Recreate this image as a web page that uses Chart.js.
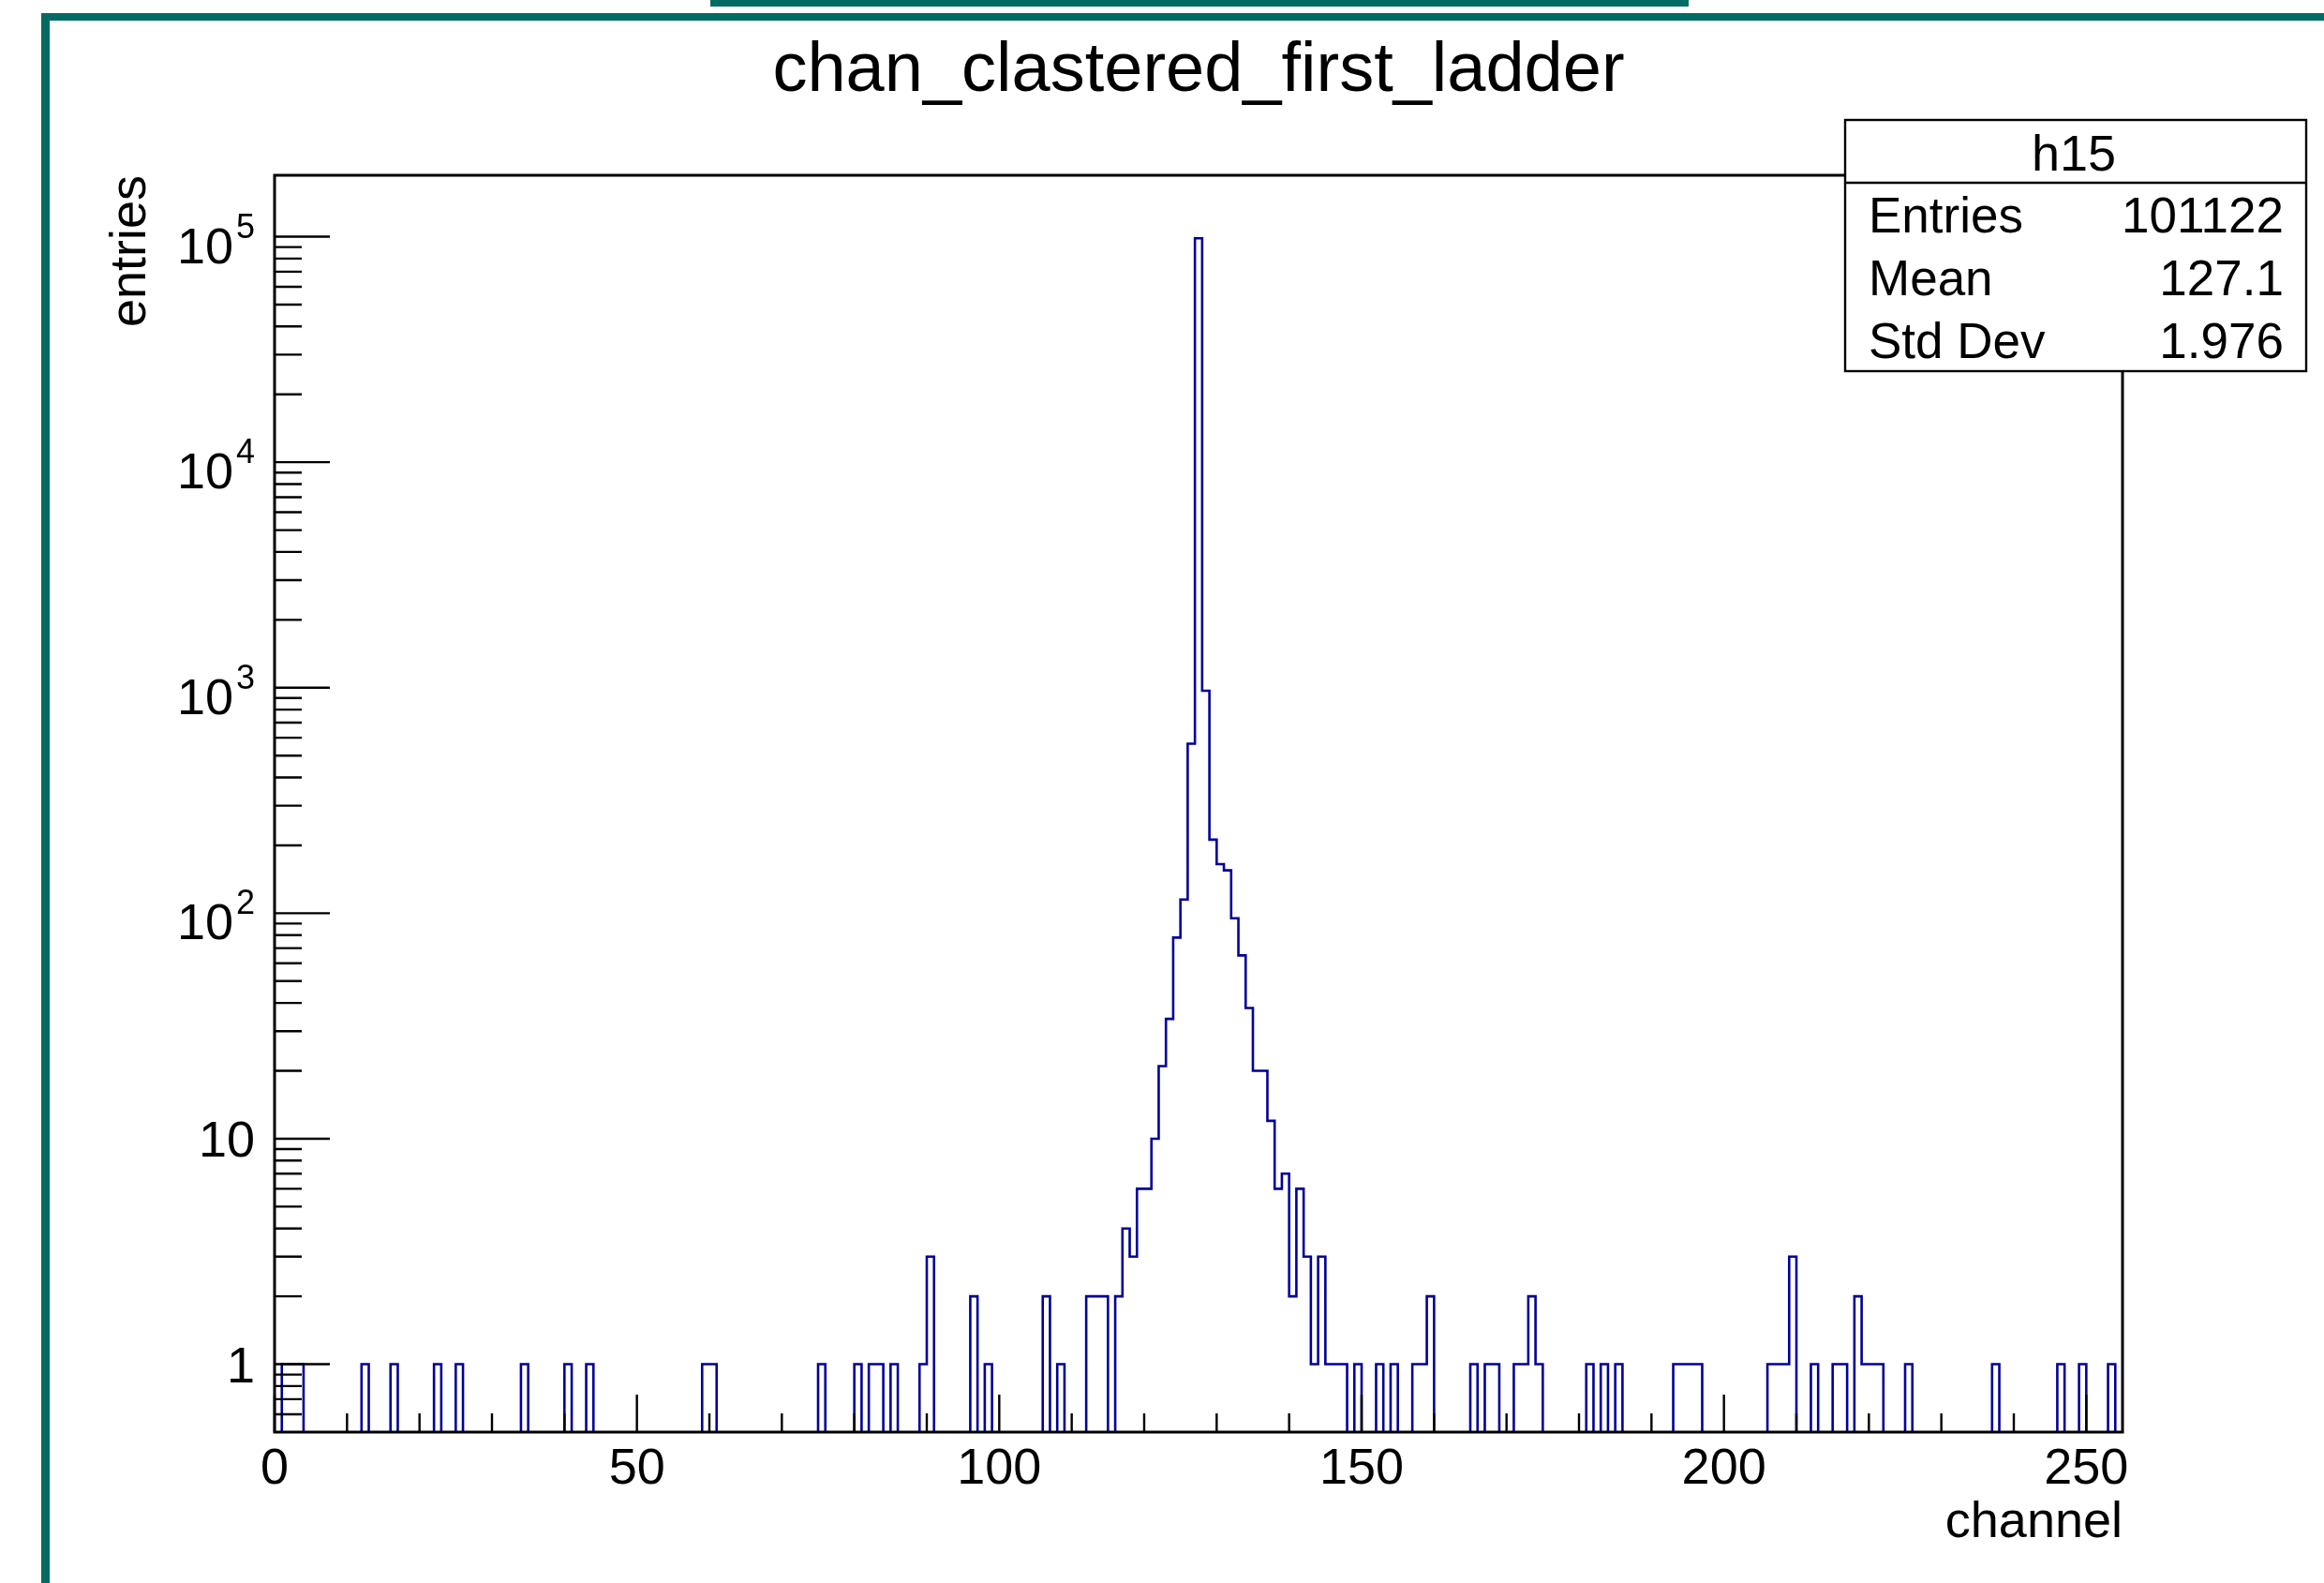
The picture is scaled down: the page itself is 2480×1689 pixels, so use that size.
<!DOCTYPE html>
<html>
<head>
<meta charset="utf-8">
<title>chan_clastered_first_ladder</title>
<script src="https://cdn.jsdelivr.net/npm/chart.js@4.4.1/dist/chart.umd.min.js"></script>
<style>
  html, body { margin: 0; padding: 0; background: #fff; }
  canvas { display: block; }
</style>
</head>
<body>
<canvas id="h15" width="2480" height="1689"></canvas>
<script>
// non-empty bins of h15 (channel = lower bin edge)
const channels = [
  1, 2, 3, 12, 16, 22, 25, 34, 40, 43,
  59, 60, 75, 80, 82, 83, 85, 89, 90, 96, 98, 106, 108,
  112, 113, 114, 116, 117, 118, 119, 120, 121, 122, 123, 124, 125, 126, 127,
  128, 129, 130, 131, 132, 133, 134, 135, 136, 137, 138, 139, 140, 141, 142, 143, 144,
  145, 146, 147, 149, 152, 154, 157, 158, 159, 165, 167, 168, 171, 172, 173, 174, 181, 183, 185,
  193, 194, 195, 196, 206, 207, 208, 209, 212, 215, 216, 218, 219, 220, 221, 225, 237, 246, 249, 253
];
const entries = [
  1, 1, 1, 1, 1, 1, 1, 1, 1, 1,
  1, 1, 1, 1, 1, 1, 1, 1, 3, 2, 1, 2, 1,
  2, 2, 2, 2, 4, 3, 6, 6, 10, 21, 34, 78, 115, 565, 98420,
  970, 212, 165, 155, 95, 65, 38, 20, 20, 12, 6, 7, 2, 6, 3, 1, 3,
  1, 1, 1, 1, 1, 1, 1, 1, 2, 1, 1, 1, 1, 1, 2, 1, 1, 1, 1,
  1, 1, 1, 1, 1, 1, 1, 3, 1, 1, 1, 2, 1, 1, 1, 1, 1, 1, 1, 1
];

const nBins = 255;
const xLabels = [0, 50, 100, 150, 200, 250];
const yDecades = [0, 1, 2, 3, 4, 5];
const statsRows = [["Entries", "101122"], ["Mean", "127.1"], ["Std Dev", "1.976"]];

const FONT = '"Liberation Sans", Arial, Helvetica, sans-serif';
const TEAL = '#036b63';

const counts = new Array(nBins).fill(0);
channels.forEach((c, i) => { counts[c] = entries[i]; });

// empty bins go below the axis minimum and get clipped, the way ROOT draws them
const FLOOR = 0.1;
const points = counts.map((v, i) => ({ x: i, y: v > 0 ? v : FLOOR }));
points.push({ x: nBins, y: points[nBins - 1].y });

const rootPad = {
  id: 'rootPad',
  afterDraw(chart) {
    const { ctx, chartArea: a } = chart;
    const sx = chart.scales.x, sy = chart.scales.y;
    ctx.save();

    // canvas frame
    ctx.fillStyle = TEAL;
    ctx.fillRect(758, 0, 1044, 7);
    ctx.fillRect(44, 14, 2436, 8);
    ctx.fillRect(44, 14, 9, 1675);

    // plot frame
    ctx.strokeStyle = '#000';
    ctx.lineWidth = 3;
    ctx.strokeRect(a.left, a.top, a.right - a.left, a.bottom - a.top);

    // x ticks, pointing inward
    ctx.lineWidth = 2.4;
    ctx.beginPath();
    for (let v = 0; v <= nBins; v += 10) {
      const px = sx.getPixelForValue(v);
      const len = v % 50 === 0 ? 40 : 20;
      ctx.moveTo(px, a.bottom);
      ctx.lineTo(px, a.bottom - len);
    }
    // y ticks: decades long, 2..9 short
    for (let e = -1; e <= 5; e++) {
      for (let m = 1; m <= 9; m++) {
        const v = m * Math.pow(10, e);
        if (v <= sy.min || v >= sy.max) continue;
        const py = sy.getPixelForValue(v);
        const len = m === 1 ? 59 : 29;
        ctx.moveTo(a.left, py);
        ctx.lineTo(a.left + len, py);
      }
    }
    ctx.stroke();

    ctx.fillStyle = '#000';

    // x labels
    ctx.font = '54px ' + FONT;
    ctx.textAlign = 'center';
    ctx.textBaseline = 'alphabetic';
    xLabels.forEach(v => ctx.fillText(String(v), sx.getPixelForValue(v), 1583));

    // y labels
    const yRight = 272;
    ctx.textAlign = 'right';
    yDecades.forEach(e => {
      const py = sy.getPixelForValue(Math.pow(10, e));
      if (e < 2) {
        ctx.font = '54px ' + FONT;
        ctx.fillText(e === 0 ? '1' : '10', yRight, py + 19);
      } else {
        ctx.font = '36px ' + FONT;
        const sup = String(e);
        const w = ctx.measureText(sup).width;
        ctx.fillText(sup, yRight, py + 1);
        ctx.font = '54px ' + FONT;
        ctx.fillText('10', yRight - w - 3, py + 28);
      }
    });

    // axis titles
    ctx.font = '54px ' + FONT;
    ctx.textAlign = 'right';
    ctx.fillText('channel', a.right, 1640);
    ctx.save();
    ctx.translate(155, a.top);
    ctx.rotate(-Math.PI / 2);
    ctx.fillText('entries', 0, 0);
    ctx.restore();

    // title
    ctx.font = '74px ' + FONT;
    ctx.textAlign = 'center';
    ctx.fillText('chan_clastered_first_ladder', 1279, 97);

    // stats box
    const bx = 1969, by = 128, bw = 492, bh = 268;
    ctx.fillStyle = '#fff';
    ctx.fillRect(bx, by, bw, bh);
    ctx.lineWidth = 2.4;
    ctx.strokeRect(bx, by, bw, bh);
    ctx.beginPath();
    ctx.moveTo(bx, 195);
    ctx.lineTo(bx + bw, 195);
    ctx.stroke();
    ctx.fillStyle = '#000';
    ctx.font = '54px ' + FONT;
    ctx.textAlign = 'center';
    ctx.fillText('h15', bx + bw / 2 - 2, 182);
    ctx.font = '53px ' + FONT;
    statsRows.forEach((row, i) => {
      const base = 248 + i * 67;
      ctx.textAlign = 'left';
      ctx.fillText(row[0], 1994, base);
      ctx.textAlign = 'right';
      ctx.fillText(row[1], 2437, base);
    });

    ctx.restore();
  }
};

new Chart(document.getElementById('h15'), {
  type: 'line',
  data: {
    datasets: [{
      label: 'h15',
      data: points,
      borderColor: '#000099',
      borderWidth: 2.6,
      stepped: true,
      pointRadius: 0,
      fill: false
    }]
  },
  options: {
    responsive: false,
    animation: false,
    devicePixelRatio: 1,
    layout: { padding: { left: 293, right: 215, top: 187, bottom: 161 } },
    scales: {
      x: { type: 'linear', min: 0, max: nBins, display: false },
      y: { type: 'logarithmic', min: 0.5, max: 1.873e5, display: false }
    },
    plugins: {
      legend: { display: false },
      tooltip: { enabled: false }
    }
  },
  plugins: [rootPad]
});
</script>
</body>
</html>
